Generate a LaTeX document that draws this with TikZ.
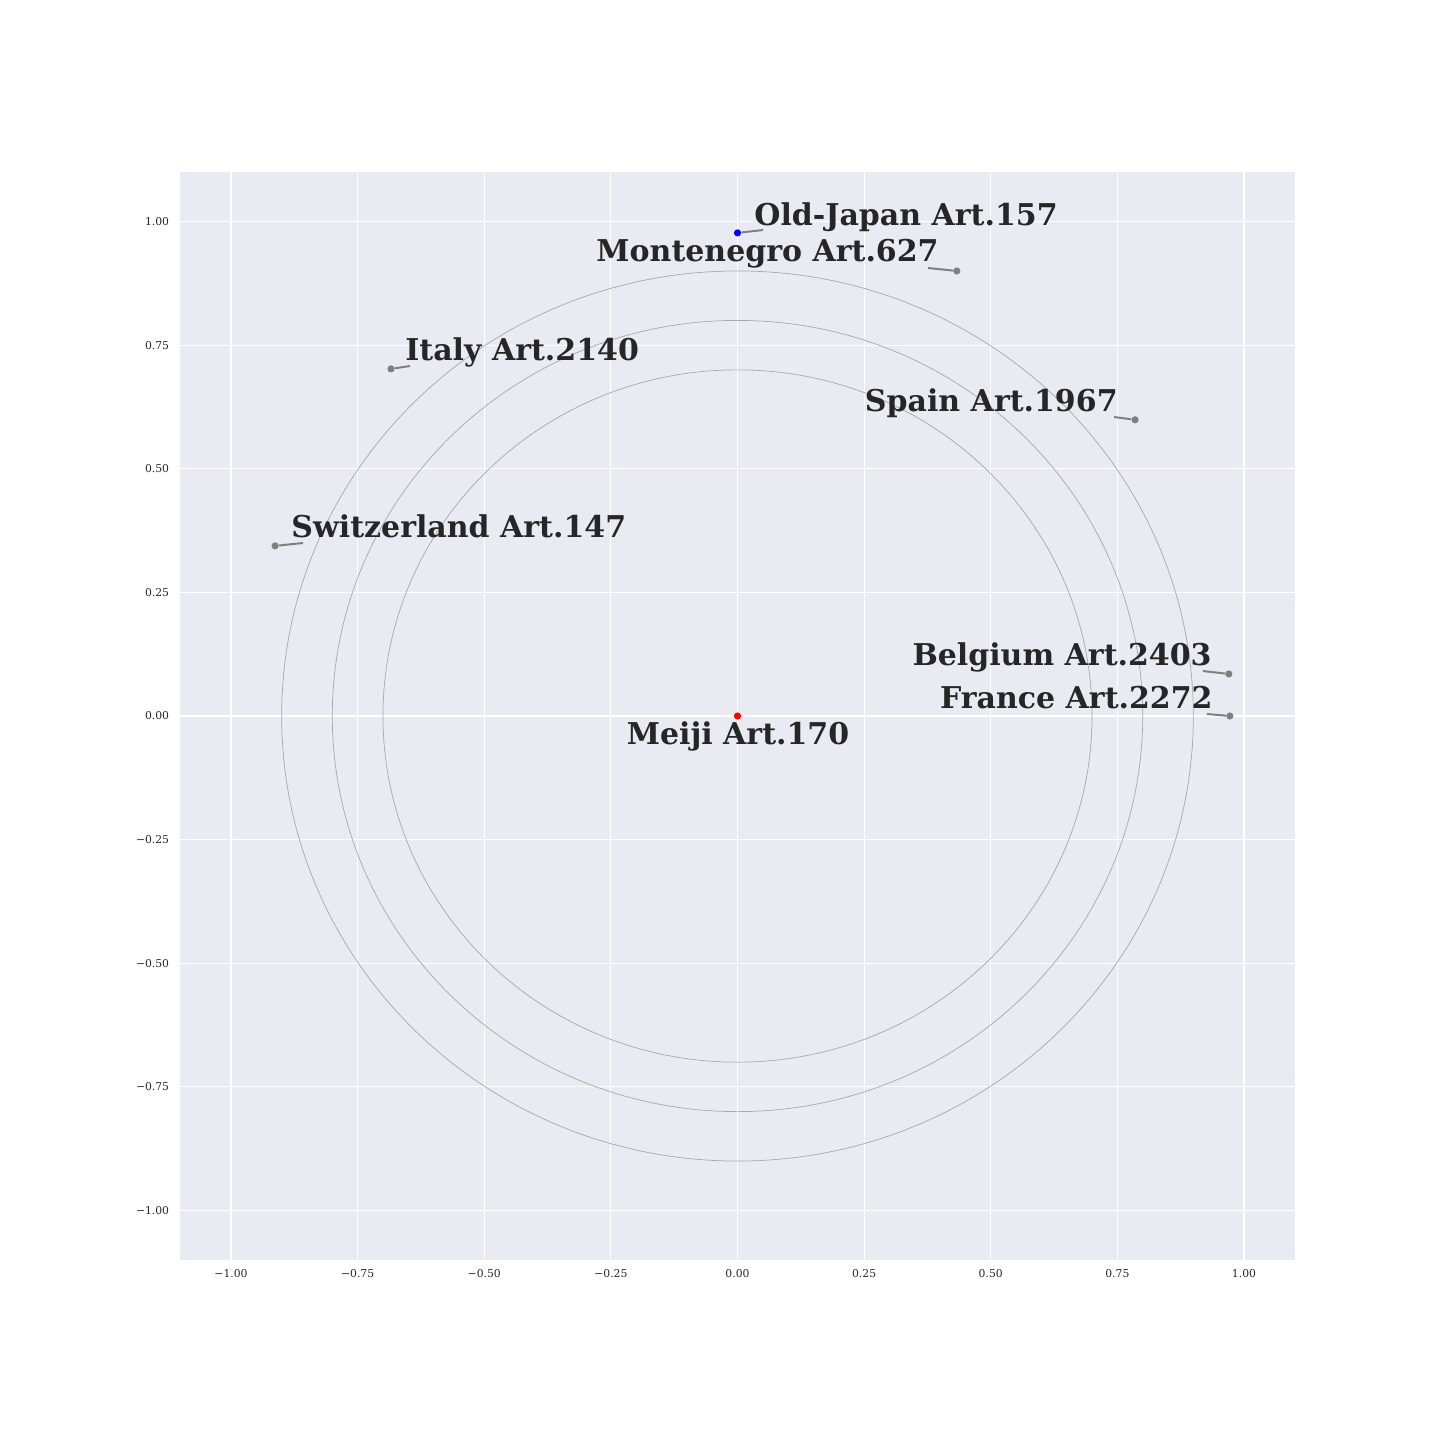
\documentclass[tikz,border=0pt]{standalone}
\usepackage{fontspec}
\setmainfont{DejaVu Serif}
\definecolor{axbg}{HTML}{EAEAF2}
\definecolor{txt}{HTML}{262626}
\definecolor{stub}{HTML}{808080}
\definecolor{ring}{HTML}{A8A8A8}
\tikzset{
  lbl/.style={font=\fontsize{15.0}{18}\bfseries\selectfont, text=txt, inner sep=0pt},
  tick/.style={font=\fontsize{5.4}{6.5}\selectfont, text=txt, inner sep=0pt},
  pt/.style={circle, fill=stub, inner sep=0pt, minimum size=3.6pt},
  stubline/.style={draw=stub, line width=1pt},
  gridline/.style={draw=white, line width=0.6pt},
  ringline/.style={draw=ring, line width=0.35pt}
}
\begin{document}
\begin{tikzpicture}[x=0.5pt,y=-0.5pt]
\useasboundingbox (0,0) rectangle (1440,1440);
\fill[white] (0,0) rectangle (1440,1440);
\fill[axbg] (180.35,172.05) rectangle (1294.65,1259.95);
\begin{scope}[shift={(737.5,716)}, x=253.25pt, y=247.25pt]
  \foreach \v in {-1,-0.75,-0.5,-0.25,0,0.25,0.5,0.75,1} {
    \draw[gridline] (\v,-1.1) -- (\v,1.1);
    \draw[gridline] (-1.1,\v) -- (1.1,\v);
  }
  \foreach \r in {0.7,0.8,0.9} \draw[ringline] (0,0) circle [radius=\r];
  \node[pt, fill=red] (meiji) at (0,0) {};
  \node[pt, fill=blue] (oldjapan) at (0,0.977) {};
  \node[pt] (montenegro) at (0.433,0.9) {};
  \node[pt] (italy) at (-0.684,0.702) {};
  \node[pt] (spain) at (0.785,0.599) {};
  \node[pt] (switzerland) at (-0.913,0.344) {};
  \node[pt] (belgium) at (0.970,0.085) {};
  \node[pt] (france) at (0.972,0) {};
\end{scope}
% tick labels
\foreach \v/\t in {-1/−1.00,-0.75/−0.75,-0.5/−0.50,-0.25/−0.25,0/0.00,0.25/0.25,0.5/0.50,0.75/0.75,1/1.00} {
  \node[tick] (xt\v) at ({737.5+506.5*\v},1274) {\t};
  \node[tick, anchor=east] (yt\v) at (169.5,{716-494.5*\v}) {\t};
}
% stubs
\coordinate (sOJ) at (763,230);
\coordinate (sMO) at (928,268);
\coordinate (sIT) at (410,366);
\coordinate (sSP) at (1114,417);
\coordinate (sSW) at (303,543);
\coordinate (sBE) at (1203,671);
\coordinate (sFR) at (1207,714);
\draw[stubline] (oldjapan) -- (sOJ);
\draw[stubline] (montenegro) -- (sMO);
\draw[stubline] (italy) -- (sIT);
\draw[stubline] (spain) -- (sSP);
\draw[stubline] (switzerland) -- (sSW);
\draw[stubline] (belgium) -- (sBE);
\draw[stubline] (france) -- (sFR);
% labels
\node[lbl, anchor=base west] (tOJ) at (754,225) {Old-Japan Art.157};
\node[lbl, anchor=base east] (tMO) at (939,261) {Montenegro Art.627};
\node[lbl, anchor=base west] (tIT) at (405,360) {Italy Art.2140};
\node[lbl, anchor=base east] (tSP) at (1118,411) {Spain Art.1967};
\node[lbl, anchor=base west] (tSW) at (291,537) {Switzerland Art.147};
\node[lbl, anchor=base east] (tBE) at (1212,665) {Belgium Art.2403};
\node[lbl, anchor=base east] (tFR) at (1213,708) {France Art.2272};
\node[lbl, anchor=base] (tME) at (738,744) {Meiji Art.170};
\end{tikzpicture}
\end{document}
